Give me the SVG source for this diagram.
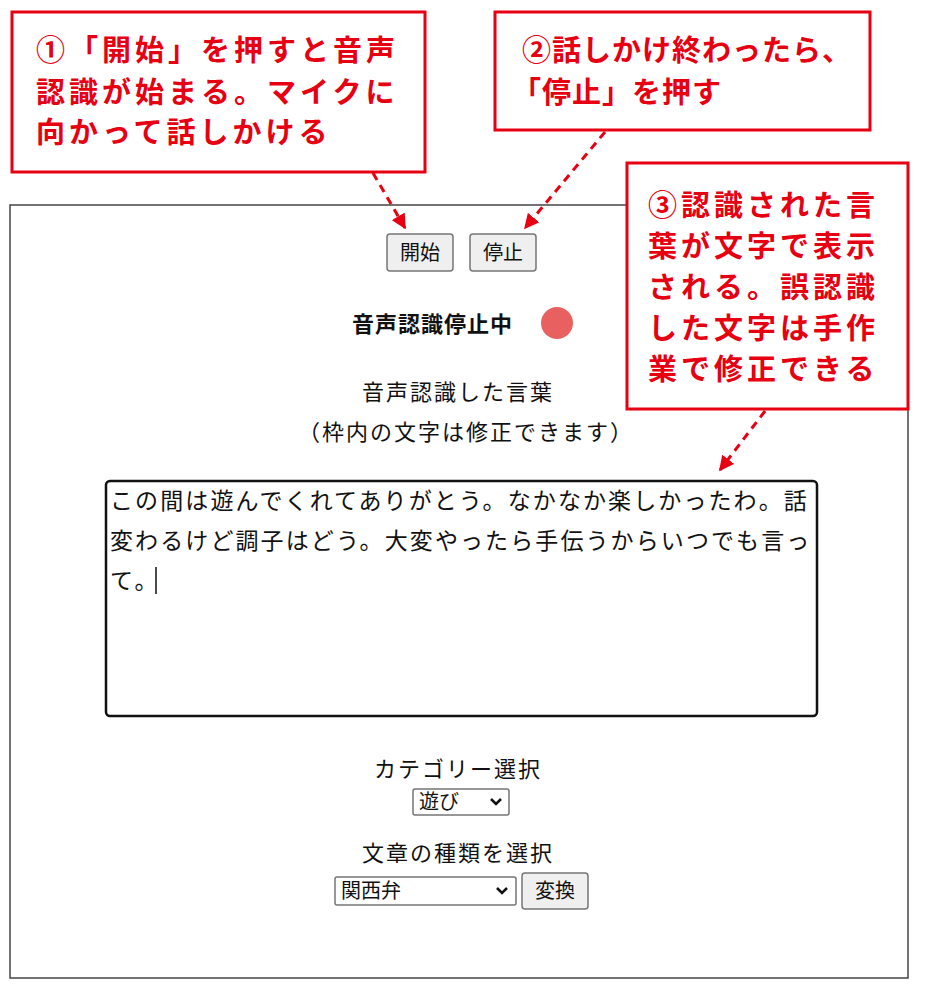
<svg xmlns="http://www.w3.org/2000/svg" width="925" height="1000" viewBox="0 0 925 1000">
<style>
.call{fill:#fff;stroke:#e60012;stroke-width:3}
.ct{font-family:"Noto Sans CJK JP",sans-serif;font-weight:bold;font-size:29px;letter-spacing:4px;fill:#e60012}
.ui{font-family:"Noto Sans CJK JP",sans-serif;font-size:22px;letter-spacing:2px;fill:#111}
.sm{font-family:"Noto Sans CJK JP",sans-serif;font-size:20px;fill:#111}
.ta{font-family:"Noto Sans CJK JP",sans-serif;font-size:23px;letter-spacing:2.1px;fill:#111}
.btn{fill:#efefef;stroke:#767676;stroke-width:1.5}
.sel{fill:#fff;stroke:#767676;stroke-width:1.5}
.conn{stroke:#e60012;stroke-width:3;stroke-dasharray:8 6;fill:none;marker-end:url(#ah)}
</style>
<defs><marker id="ah" viewBox="0 0 10 10" refX="9" refY="5" markerWidth="5" markerHeight="5" orient="auto"><path d="M0,0L10,5L0,10z" fill="#e60012"/></marker></defs>
<rect width="925" height="1000" fill="#fff"/>
<g id="frame"><rect x="10" y="205" width="898" height="773" fill="#fff" stroke="#444" stroke-width="1.5"/></g>
<g id="btn-start"><rect class="btn" x="387" y="234" width="66" height="37" rx="3"/><text class="sm" x="420" y="260" text-anchor="middle">開始</text></g>
<g id="btn-stop"><rect class="btn" x="470" y="234" width="66" height="37" rx="3"/><text class="sm" x="503" y="260" text-anchor="middle">停止</text></g>
<g id="status"><text class="ui" x="352" y="332" style="font-weight:bold;letter-spacing:1px">音声認識停止中</text><circle cx="557" cy="323" r="16" fill="#e86060"/></g>
<g id="label"><text class="ui" x="362" y="400">音声認識した言葉</text><text class="ui" x="298" y="440">（枠内の文字は修正できます）</text></g>
<g id="textarea"><rect x="106" y="481" width="711" height="235" rx="4" fill="#fff" stroke="#111" stroke-width="2.5"/>
<text class="ta" x="110" y="509">この間は遊んでくれてありがとう。なかなか楽しかったわ。話</text>
<text class="ta" x="110" y="549">変わるけど調子はどう。大変やったら手伝うからいつでも言っ</text>
<text class="ta" x="110" y="589">て。</text><line x1="156" y1="567" x2="156" y2="594" stroke="#111" stroke-width="1.5"/></g>
<g id="category"><text class="ui" x="374" y="777">カテゴリー選択</text><rect class="sel" x="413" y="789" width="96" height="26" rx="2"/><text class="sm" x="419" y="809">遊び</text><path d="M491,799l5,5l5,-5" stroke="#111" stroke-width="2.5" fill="none"/></g>
<g id="type"><text class="ui" x="362" y="861">文章の種類を選択</text><rect class="sel" x="335" y="877" width="181" height="28" rx="2"/><text class="sm" x="341" y="898">関西弁</text><path d="M497,888l5,5l5,-5" stroke="#111" stroke-width="2.5" fill="none"/>
<rect class="btn" x="522" y="873" width="66" height="36" rx="3"/><text class="sm" x="555" y="898" text-anchor="middle">変換</text></g>
<g id="callout1"><rect class="call" x="12" y="12" width="413" height="160"/><text class="ct" x="36" y="61">①「開始」を押すと音声</text><text class="ct" x="36" y="103">認識が始まる。マイクに</text><text class="ct" x="36" y="143">向かって話しかける</text></g>
<g id="callout2"><rect class="call" x="495" y="12" width="375" height="118"/><text class="ct" x="522" y="61" style="letter-spacing:1px">②話しかけ終わったら、</text><text class="ct" x="512" y="103" style="letter-spacing:1px">「停止」を押す</text></g>
<g id="callout3"><rect class="call" x="627" y="163" width="281" height="246"/><text class="ct" x="648" y="216">③認識された言</text><text class="ct" x="648" y="257">葉が文字で表示</text><text class="ct" x="648" y="298">される。誤認識</text><text class="ct" x="648" y="339">した文字は手作</text><text class="ct" x="648" y="380">業で修正できる</text></g>
<g id="connectors"><path class="conn" d="M373,173L405,228"/><path class="conn" d="M605,132L525,228"/><path class="conn" d="M765,411L720,470"/></g>
</svg>
